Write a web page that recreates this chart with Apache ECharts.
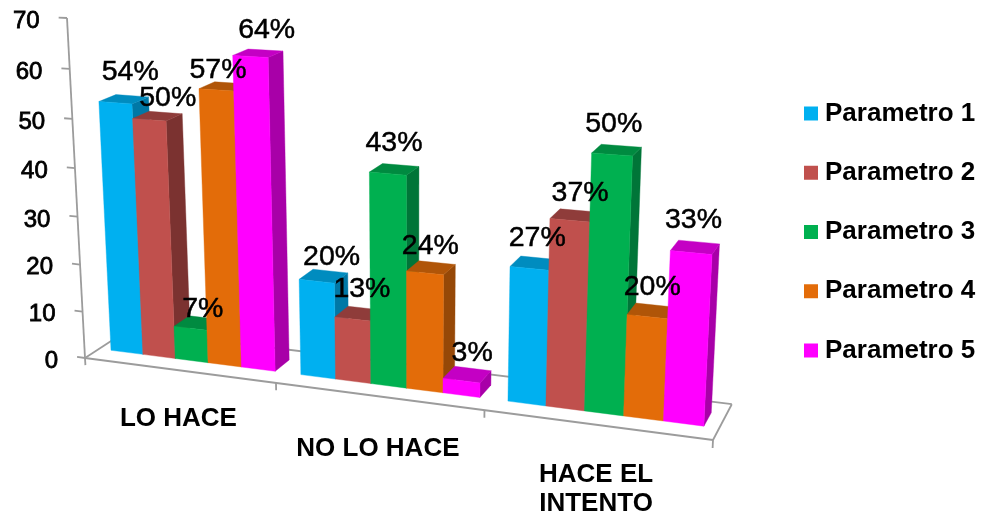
<!DOCTYPE html>
<html><head><meta charset="utf-8">
<style>html,body{margin:0;padding:0;background:#fff}#c{width:986px;height:519px}</style>
<script src="https://cdn.jsdelivr.net/npm/echarts@6/dist/echarts.min.js"></script>
</head><body><div id="c"></div>
<script>
const categories = ['LO HACE', 'NO LO HACE', 'HACE EL\nINTENTO'];
const parametro1 = [53, 20, 27];
const parametro2 = [50, 13, 37];
const parametro3 = [7, 43, 50];
const parametro4 = [57, 24, 20];
const parametro5 = [64, 3, 33];
const etiquetas1 = ['54%', '20%', '27%'];
const etiquetas2 = ['50%', '13%', '37%'];
const etiquetas3 = ['7%', '43%', '50%'];
const etiquetas4 = ['57%', '24%', '20%'];
const etiquetas5 = ['64%', '3%', '33%'];
const yTicks = [0, 10, 20, 30, 40, 50, 60, 70];
const seriesNames = ['Parametro 1', 'Parametro 2', 'Parametro 3', 'Parametro 4', 'Parametro 5'];
const seriesValues = [parametro1, parametro2, parametro3, parametro4, parametro5];
const seriesLabels = [etiquetas1, etiquetas2, etiquetas3, etiquetas4, etiquetas5];

// styles
const frontColors = ['#00B0F0', '#C0504D', '#00B050', '#E36C09', '#FF00FF'];
const sideColors = ['#0078A6', '#7B3230', '#007538', '#964807', '#A800A8'];
const topColors = ['#008CBF', '#8F3C3A', '#008A40', '#B05508', '#C400C4'];
const FONT = '"Liberation Sans", Arial, sans-serif';
const GAP = 0.75, Z0 = 0.32, Z1 = 0.70, BAR_SCALE = 0.99;
const catLabelDrop = [49, 53, 65];
// hand placement of the data labels, as offsets from each bar's top (series by category)
const labelNudges = [
  [[-1, -4], [2, 6], [-2, 0]],
  [[3, 5.5], [-3, 0], [1, 2]],
  [[-2, 11], [-6, -2], [-7, -2.5]],
  [[-13, 7], [-6, 3], [-3, 1]],
  [[2, 0], [0, 4], [-5, -2]]
];

// perspective camera: unit box (X along categories, Y along value, Z depth) to page pixels
const O = [85, 358], AX = [713, 440], AY = [67, 18], AZ = [128, 330];
const WX = 0.874, WY = 0.948, WZ = 1.044;
function project(X, Y, Z) {
  const w = 1 + X * (WX - 1) + Y * (WY - 1) + Z * (WZ - 1);
  return [0, 1].map(k => (O[k] + X * (WX * AX[k] - O[k]) + Y * (WY * AY[k] - O[k]) + Z * (WZ * AZ[k] - O[k])) / w);
}
// unit-box position of a data point, read through the chart's own axes
function unit(params, api, cat, val, shift) {
  const cs = params.coordSys;
  const p = api.coord([cat, val]);
  const bandW = api.size([1, 0])[0];
  return [(p[0] + shift * bandW / (5 + GAP) - cs.x) / cs.width, (cs.y + cs.height - p[1]) / cs.height];
}
function poly(points, fill, z2) {
  return { type: 'polygon', shape: { points }, style: { fill, stroke: fill, lineWidth: 0.4 }, z2 };
}
function line(a, b, z2) {
  return { type: 'line', shape: { x1: a[0], y1: a[1], x2: b[0], y2: b[1] }, style: { stroke: '#9C9C9C', lineWidth: 1.8 }, z2: z2 || 1 };
}
function barRenderer(si) {
  return function (params, api) {
    const cat = api.value(0), val = api.value(1);
    const [xa, y0] = unit(params, api, cat, 0, si - 2.5);
    const [xb, yv] = unit(params, api, cat, val, si - 1.5);
    const y1 = yv * BAR_SCALE;
    const f00 = project(xa, y0, Z0), f10 = project(xb, y0, Z0), f01 = project(xa, y1, Z0), f11 = project(xb, y1, Z0);
    const b10 = project(xb, y0, Z1), b01 = project(xa, y1, Z1), b11 = project(xb, y1, Z1);
    const base = 10 + si * 3;
    const anchor = project((xa + xb) / 2, y1, 0.68);
    const nudge = labelNudges[si][cat];
    return {
      type: 'group',
      children: [
        poly([f10, b10, b11, f11], sideColors[si], base),
        poly([f01, f11, b11, b01], topColors[si], base + 1),
        poly([f00, f10, f11, f01], frontColors[si], base + 2),
        { type: 'text', z2: 200, style: { text: seriesLabels[si][cat], x: anchor[0] + nudge[0], y: anchor[1] - 20 + nudge[1], fill: '#000', stroke: '#000', lineWidth: 0.5, font: '28.5px ' + FONT, align: 'center', verticalAlign: 'middle' } }
      ]
    };
  };
}
function frameRenderer() {
  const fl = [[0, 0, 0], [1, 0, 0], [1, 0, 1], [0, 0, 1]].map(p => project(p[0], p[1], p[2]));
  const kids = [line(fl[0], fl[1]), line(fl[1], fl[2]), line(fl[2], fl[3]), line(fl[3], fl[0])];
  kids.push(line(project(0, 0, 0), project(0, 1, 0)));
  [0, 1 / 3, 2 / 3, 1].forEach(x => kids.push(line(project(x, 0, 0), project(x, -0.022, 0))));
  return { type: 'group', children: kids };
}
function yTickRenderer(params, api) {
  const [, y] = unit(params, api, 0, api.value(1), 0);
  const a = project(0, y, 0), b = project(-0.0145, y, 0);
  return {
    type: 'group',
    children: [
      line(a, b),
      { type: 'text', z2: 200, style: { text: String(api.value(1)), x: b[0] - 19, y: b[1] + 4, fill: '#000', stroke: '#000', lineWidth: 0.8, font: '24px ' + FONT, align: 'right', verticalAlign: 'middle' } }
    ]
  };
}
function catRenderer(params, api) {
  const i = api.value(0);
  const [x, y] = unit(params, api, i, 0, 0);
  const p = project(x, y, 0);
  return { type: 'text', z2: 200, style: { text: categories[i], x: p[0], y: p[1] + catLabelDrop[i], fill: '#000', font: 'bold 26px ' + FONT, lineHeight: 29, align: 'center', verticalAlign: 'middle' } };
}

const chart = echarts.init(document.getElementById('c'), null, { renderer: 'canvas' });
chart.setOption({
  backgroundColor: '#fff',
  animation: false,
  grid: { left: 0, right: 0, top: 0, bottom: 0 },
  xAxis: { type: 'category', data: categories, show: false },
  yAxis: { type: 'value', min: 0, max: 70, interval: 10, show: false },
  legend: {
    data: seriesNames, orient: 'vertical', left: 804, top: 99, padding: 0,
    itemWidth: 14, itemHeight: 14, itemGap: 30.25, icon: 'rect',
    textStyle: { fontFamily: FONT, fontWeight: 'bold', fontSize: 26, color: '#000', padding: [0, 0, 0, 2], lineHeight: 29 }
  },
  series: [
    { type: 'custom', name: 'frame', silent: true, clip: false, coordinateSystem: 'cartesian2d', data: [[0, 0]], encode: { x: 0, y: 1 }, renderItem: frameRenderer },
    { type: 'custom', name: 'yticks', silent: true, clip: false, coordinateSystem: 'cartesian2d', data: yTicks.map(t => [0, t]), encode: { x: 0, y: 1 }, renderItem: yTickRenderer },
    { type: 'custom', name: 'cats', silent: true, clip: false, coordinateSystem: 'cartesian2d', data: categories.map((c, i) => [i, 0]), encode: { x: 0, y: 1 }, renderItem: catRenderer }
  ].concat(seriesNames.map((name, si) => ({
    type: 'custom', name, clip: false, coordinateSystem: 'cartesian2d',
    itemStyle: { color: frontColors[si] },
    data: seriesValues[si].map((v, i) => [i, v]),
    encode: { x: 0, y: 1 },
    renderItem: barRenderer(si)
  })))
});
</script></body></html>
